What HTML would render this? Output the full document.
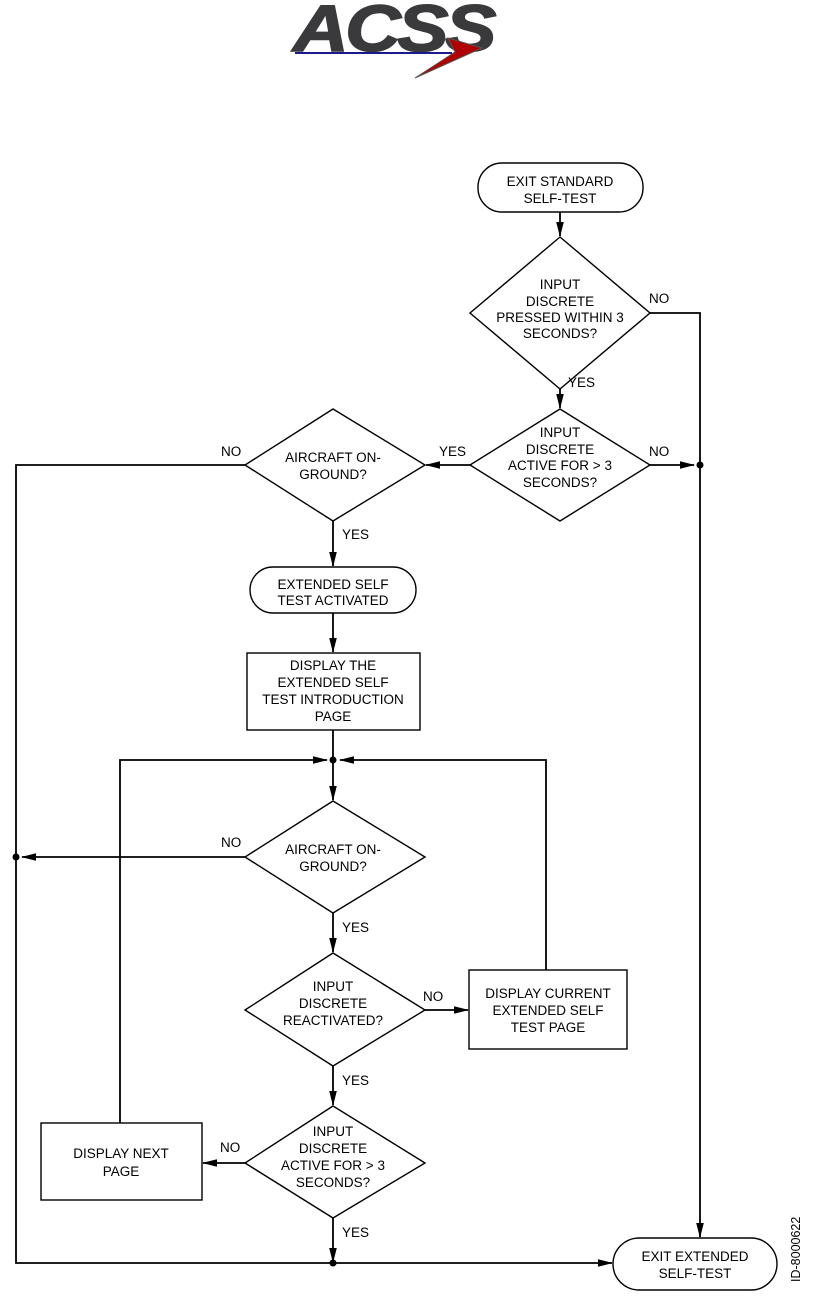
<!DOCTYPE html>
<html><head><style>
html,body{margin:0;padding:0;background:#fff;}
svg{display:block;}
text{font-family:"Liberation Sans",sans-serif;font-size:13.5px;fill:#000;}
</style></head><body>
<svg width="816" height="1302" viewBox="0 0 816 1302" xmlns="http://www.w3.org/2000/svg">
<defs>
<marker id="a" markerWidth="15" markerHeight="10" refX="14" refY="5" orient="auto" markerUnits="userSpaceOnUse">
<path d="M0,1.2 L15,5 L0,8.8 Z" fill="#000"/></marker>
</defs>
<!-- logo -->
<text x="293" y="51" style="font-size:66px;font-weight:bold;font-style:italic;fill:#3a3a3c;letter-spacing:-3px;stroke:#3a3a3c;stroke-width:1.5" textLength="200" lengthAdjust="spacingAndGlyphs">ACSS</text>
<line x1="295" y1="53" x2="452" y2="53" stroke="#1a1a8a" stroke-width="2"/>
<path d="M448,38 L482,48 L415,78 L455,52 Z" fill="#b00000" stroke="#555" stroke-width="1"/>

<g fill="none" stroke="#000" stroke-width="1.4">
<rect x="478" y="163" width="165" height="49" rx="24"/>
<polygon points="560,237 650,313 560,389 470,313"/>
<polygon points="560,409 650,465 560,521 470,465"/>
<polygon points="333,409 425,465 333,521 245,465"/>
<rect x="250" y="567" width="166" height="46" rx="23"/>
<rect x="247" y="653" width="173" height="77"/>
<polygon points="333,801 425,857 333,913 245,857"/>
<polygon points="333,953 425,1010 333,1066 245,1010"/>
<rect x="469" y="970" width="158" height="79"/>
<polygon points="333,1106 425,1163 333,1218 245,1163"/>
<rect x="41" y="1123" width="161" height="77"/>
<rect x="613" y="1238" width="164" height="52" rx="26"/>
</g>
<g fill="none" stroke="#000" stroke-width="1.8">
<line x1="560" y1="212" x2="560" y2="236" marker-end="url(#a)"/>
<polyline points="650,313 700,313 700,1237" marker-end="url(#a)"/>
<line x1="560" y1="389" x2="560" y2="408" marker-end="url(#a)"/>
<line x1="650" y1="465" x2="694" y2="465" marker-end="url(#a)"/>
<line x1="470" y1="465" x2="426" y2="465" marker-end="url(#a)"/>
<polyline points="245,465 16,465 16,1263 612,1263" marker-end="url(#a)"/>
<line x1="333" y1="521" x2="333" y2="566" marker-end="url(#a)"/>
<line x1="333" y1="613" x2="333" y2="652" marker-end="url(#a)"/>
<line x1="333" y1="730" x2="333" y2="800" marker-end="url(#a)"/>
<polyline points="120,1123 120,760 327,760" marker-end="url(#a)"/>
<polyline points="546,970 546,760 340,760" marker-end="url(#a)"/>
<line x1="245" y1="857" x2="22" y2="857" marker-end="url(#a)"/>
<line x1="333" y1="913" x2="333" y2="952" marker-end="url(#a)"/>
<line x1="425" y1="1010" x2="468" y2="1010" marker-end="url(#a)"/>
<line x1="333" y1="1066" x2="333" y2="1105" marker-end="url(#a)"/>
<line x1="245" y1="1163" x2="203" y2="1163" marker-end="url(#a)"/>
<line x1="333" y1="1218" x2="333" y2="1262" marker-end="url(#a)"/>
</g>
<g fill="#000">
<circle cx="700" cy="465" r="3.5"/><circle cx="16" cy="857" r="3.5"/>
<circle cx="333" cy="760" r="3.5"/><circle cx="333" cy="1263" r="3.5"/>
</g>
<g text-anchor="middle">
<text x="560" y="186">EXIT STANDARD</text><text x="560" y="203">SELF-TEST</text>
<text x="560" y="289">INPUT</text><text x="560" y="306">DISCRETE</text><text x="560" y="322">PRESSED WITHIN 3</text><text x="560" y="338">SECONDS?</text>
<text x="560" y="437">INPUT</text><text x="560" y="454">DISCRETE</text><text x="560" y="470">ACTIVE FOR &gt; 3</text><text x="560" y="487">SECONDS?</text>
<text x="333" y="462">AIRCRAFT ON-</text><text x="333" y="479">GROUND?</text>
<text x="333" y="589">EXTENDED SELF</text><text x="333" y="605">TEST ACTIVATED</text>
<text x="333" y="670">DISPLAY THE</text><text x="333" y="687">EXTENDED SELF</text><text x="333" y="704">TEST INTRODUCTION</text><text x="333" y="721">PAGE</text>
<text x="333" y="854">AIRCRAFT ON-</text><text x="333" y="871">GROUND?</text>
<text x="333" y="991">INPUT</text><text x="333" y="1008">DISCRETE</text><text x="333" y="1025">REACTIVATED?</text>
<text x="548" y="998">DISPLAY CURRENT</text><text x="548" y="1015">EXTENDED SELF</text><text x="548" y="1032">TEST PAGE</text>
<text x="333" y="1136">INPUT</text><text x="333" y="1153">DISCRETE</text><text x="333" y="1170">ACTIVE FOR &gt; 3</text><text x="333" y="1187">SECONDS?</text>
<text x="121" y="1158">DISPLAY NEXT</text><text x="121" y="1176">PAGE</text>
<text x="695" y="1261">EXIT EXTENDED</text><text x="695" y="1278">SELF-TEST</text>
</g>
<text x="649" y="303">NO</text>
<text x="568" y="387">YES</text>
<text x="649" y="456">NO</text>
<text x="439" y="456">YES</text>
<text x="221" y="456">NO</text>
<text x="342" y="539">YES</text>
<text x="221" y="847">NO</text>
<text x="342" y="932">YES</text>
<text x="423" y="1001">NO</text>
<text x="342" y="1085">YES</text>
<text x="220" y="1152">NO</text>
<text x="342" y="1237">YES</text>
<text transform="translate(800,1282) rotate(-90)" style="font-size:12.5px">ID-8000622</text>
</svg>
</body></html>
